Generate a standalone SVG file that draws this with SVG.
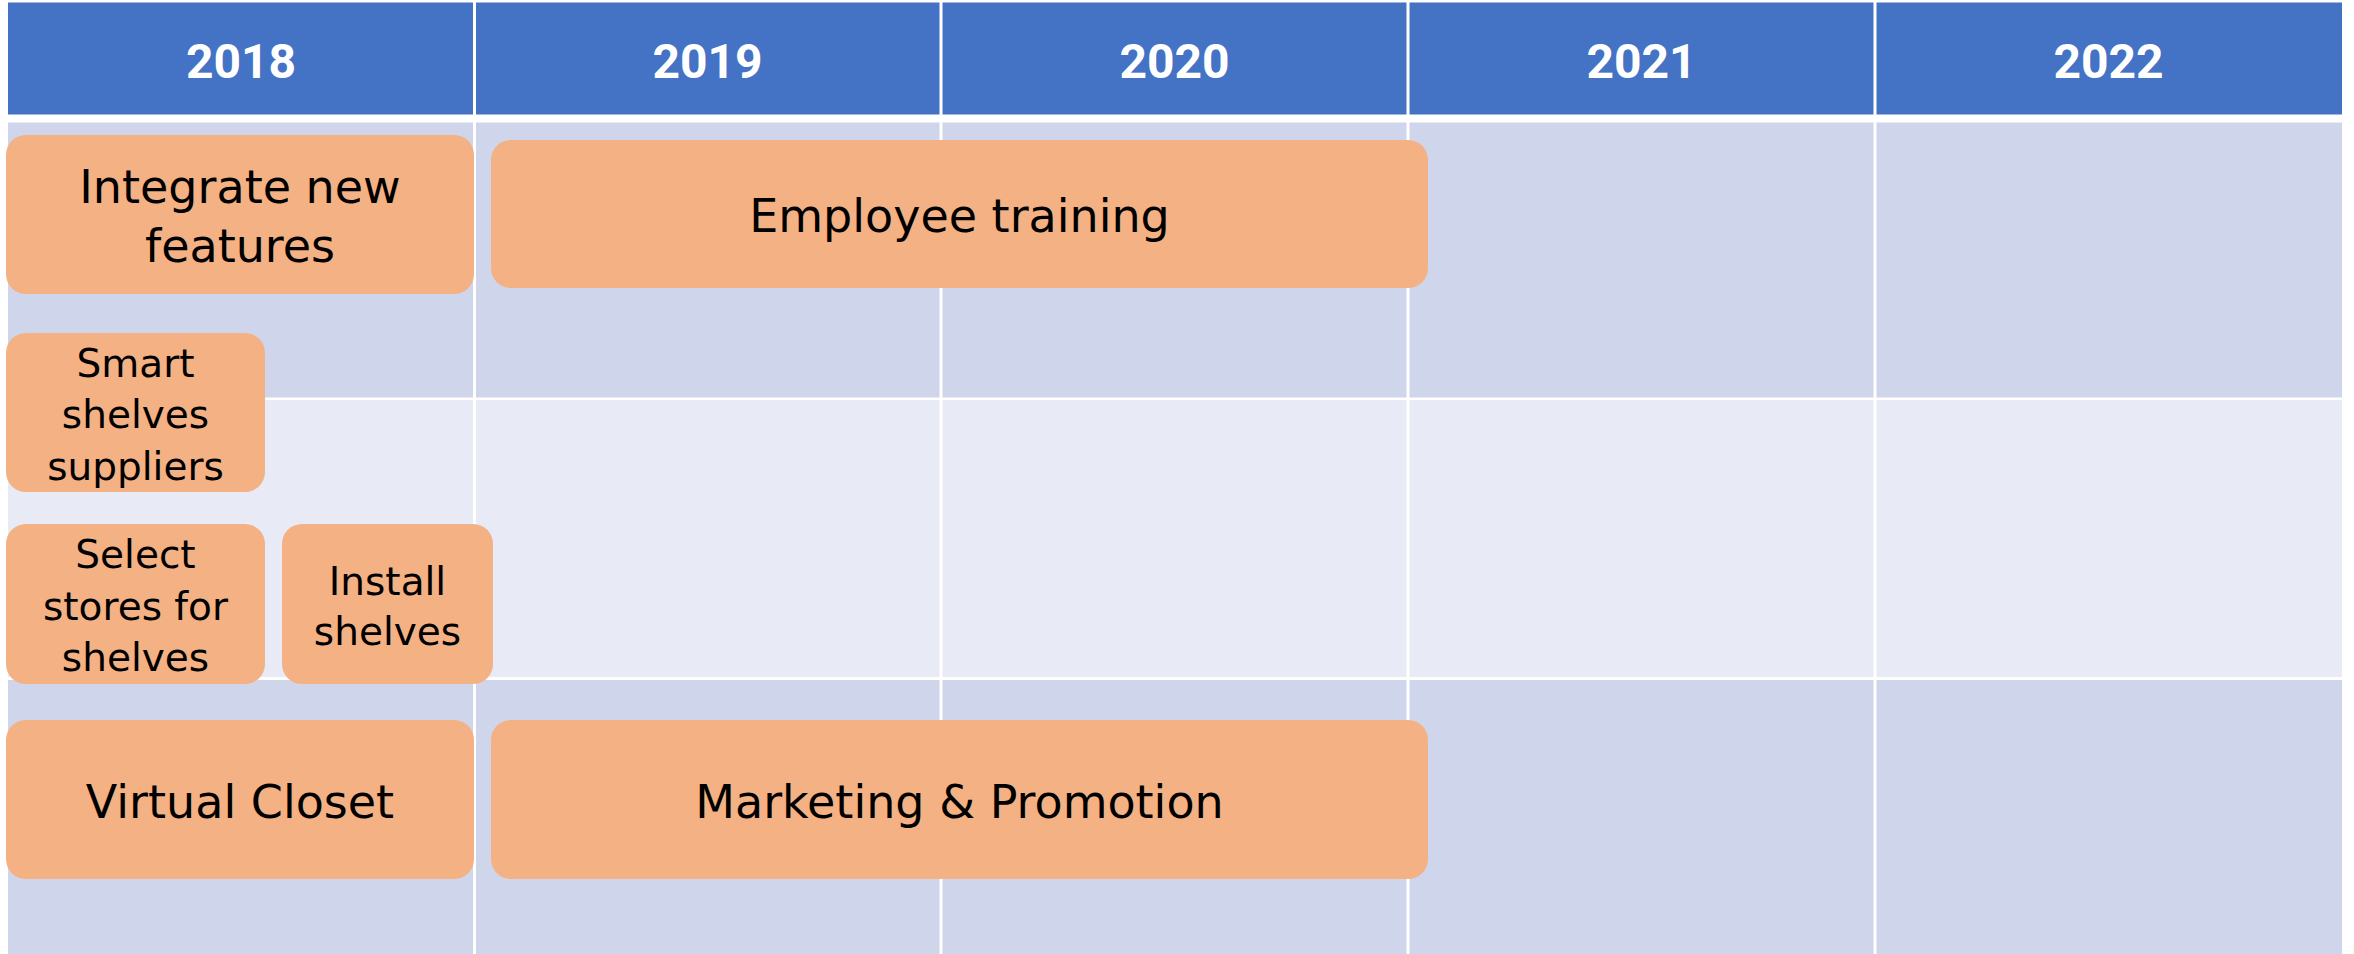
<svg xmlns="http://www.w3.org/2000/svg" width="2354" height="954" viewBox="0 0 2354 954">
  <style>
    .hdr { fill: #4472C4; }
    .band-dark { fill: #CFD5EA; }
    .band-light { fill: #E8EBF5; }
    .sep { stroke: #FFFFFF; stroke-width: 3; }
    .year { font-family: Roboto, "Liberation Sans", sans-serif; font-weight: 700; font-size: 48px; fill: #FFFFFF; text-anchor: middle; }
    .task rect { fill: #F4B183; }
    .task text { font-family: "DejaVu Sans", "Liberation Sans", sans-serif; fill: #000000; text-anchor: middle; }
    .big { font-size: 46px; }
    .small { font-size: 39px; }
  </style>

  <rect width="2354" height="954" fill="#FFFFFF"/>

  <!-- timeline grid -->
  <g id="grid">
    <rect class="hdr" x="8" y="2.5" width="2334" height="112"/>
    <rect class="band-dark" x="8" y="122.5" width="2334" height="275"/>
    <rect class="band-light" x="8" y="400" width="2334" height="277"/>
    <rect class="band-dark" x="8" y="680" width="2334" height="274"/>
    <line class="sep" x1="474.5" y1="0" x2="474.5" y2="954"/>
    <line class="sep" x1="941" y1="0" x2="941" y2="954"/>
    <line class="sep" x1="1408" y1="0" x2="1408" y2="954"/>
    <line class="sep" x1="1875" y1="0" x2="1875" y2="954"/>
  </g>

  <!-- year headings -->
  <g id="years">
    <text class="year" x="241" y="78">2018</text>
    <text class="year" x="707.5" y="78">2019</text>
    <text class="year" x="1174.5" y="78">2020</text>
    <text class="year" x="1641.5" y="78">2021</text>
    <text class="year" x="2108.5" y="78">2022</text>
  </g>

  <g id="connectors"/>

  <!-- tasks -->
  <g id="integrate-new-features" class="task">
    <rect x="6" y="135" width="468" height="159" rx="20"/>
    <text class="big" x="240" y="203">Integrate new</text>
    <text class="big" x="240" y="262">features</text>
  </g>

  <g id="employee-training" class="task">
    <rect x="491" y="140" width="937" height="148" rx="20"/>
    <text class="big" x="959.5" y="232">Employee training</text>
  </g>

  <g id="smart-shelves-suppliers" class="task">
    <rect x="6" y="333" width="259" height="159" rx="20"/>
    <text class="small" x="135.5" y="377">Smart</text>
    <text class="small" x="135.5" y="428">shelves</text>
    <text class="small" x="135.5" y="480">suppliers</text>
  </g>

  <g id="select-stores" class="task">
    <rect x="6" y="524" width="259" height="160" rx="20"/>
    <text class="small" x="135.5" y="568">Select</text>
    <text class="small" x="135.5" y="620">stores for</text>
    <text class="small" x="135.5" y="671">shelves</text>
  </g>

  <g id="install-shelves" class="task">
    <rect x="282" y="524" width="211" height="160" rx="20"/>
    <text class="small" x="387.5" y="595">Install</text>
    <text class="small" x="387.5" y="645">shelves</text>
  </g>

  <g id="virtual-closet" class="task">
    <rect x="6" y="720" width="468" height="159" rx="20"/>
    <text class="big" x="240" y="818">Virtual Closet</text>
  </g>

  <g id="marketing-promotion" class="task">
    <rect x="491" y="720" width="937" height="159" rx="20"/>
    <text class="big" x="959.5" y="818">Marketing &amp; Promotion</text>
  </g>
</svg>
